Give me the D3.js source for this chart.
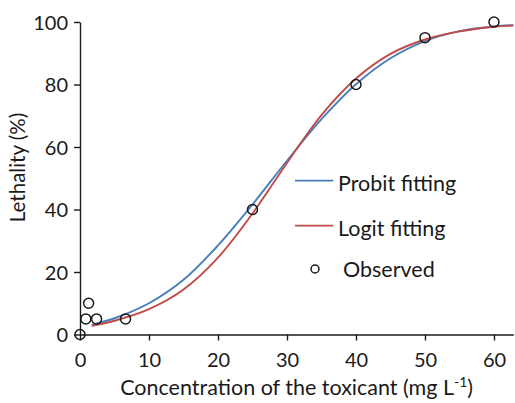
<!DOCTYPE html>
<html>
<head>
<meta charset="utf-8">
<script src="https://cdn.jsdelivr.net/npm/d3@7"></script>
<style>
  html, body { margin: 0; padding: 0; background: #fff; }
  svg text { font-family: Lato, "Open Sans", sans-serif; fill: #1a1a1a; }
</style>
</head>
<body>
<svg id="chart" width="515" height="403"></svg>
<script>
// Mortality observed at each toxicant concentration (mg/L) and percentage
const obsConc = [0, 0.85, 1.25, 2.4, 6.6, 25, 40, 50, 60];
const obsLethality = [0, 5, 10, 5, 5, 40, 80, 95, 100];

// Fitted dose-response curves, sampled along the concentration axis
const fitConc = [1.7, 5, 10, 15, 20, 25, 30, 35, 40, 45, 50, 55, 60, 62.8];
const probitFit = [3.1, 5.2, 10.0, 17.5, 28.5, 41.6, 55.6, 68.9, 80.1, 88.4, 93.9, 97.1, 98.6, 99.0];
const logitFit = [2.8, 4.4, 8.1, 14.4, 24.6, 38.7, 54.9, 70.2, 81.9, 89.8, 94.4, 97.0, 98.5, 98.9];

const xTicks = [0, 10, 20, 30, 40, 50, 60];
const yTicks = [0, 20, 40, 60, 80, 100];

const seriesNames = ["Probit fitting", "Logit fitting", "Observed"];
const seriesColors = ["#4a7ebb", "#be4b48", "#1a1a1a"];

const svg = d3.select("#chart");

const x = d3.scaleLinear().domain([0, 62.8]).range([80, 513.3]);
const y = d3.scaleLinear().domain([0, 100]).range([334.5, 22]);

// Axes
const xAxis = svg.append("g")
  .attr("transform", `translate(0,${y(0)})`)
  .call(d3.axisBottom(x).tickValues(xTicks).tickSize(6).tickSizeOuter(0).tickPadding(12));
const yAxis = svg.append("g")
  .attr("transform", `translate(${x(0)},0)`)
  .call(d3.axisLeft(y).tickValues(yTicks).tickSize(6).tickSizeOuter(0).tickPadding(6));

[xAxis, yAxis].forEach(g => {
  g.select(".domain").attr("stroke", "#1a1a1a").attr("stroke-width", 1.4);
  g.selectAll(".tick line").attr("stroke", "#1a1a1a").attr("stroke-width", 1.4);
  g.selectAll(".tick text").attr("font-size", 20).attr("fill", "#1a1a1a")
    .style("font-family", "Lato, 'Open Sans', sans-serif");
});
yAxis.selectAll(".tick text").attr("dy", "0.36em");

// Fitted curves
const line = d3.line().x(d => x(d[0])).y(d => y(d[1])).curve(d3.curveCatmullRom.alpha(0.5));
const probitPts = fitConc.map((c, i) => [c, probitFit[i]]);
const logitPts = fitConc.map((c, i) => [c, logitFit[i]]);

svg.append("path").datum(probitPts)
  .attr("d", line).attr("fill", "none")
  .attr("stroke", seriesColors[0]).attr("stroke-width", 1.9);
svg.append("path").datum(logitPts)
  .attr("d", line).attr("fill", "none")
  .attr("stroke", seriesColors[1]).attr("stroke-width", 1.9);

// Observed points
svg.append("g").selectAll("circle")
  .data(obsConc.map((c, i) => [c, obsLethality[i]]))
  .join("circle")
  .attr("cx", d => x(d[0])).attr("cy", d => y(d[1]))
  .attr("r", 5).attr("fill", "none")
  .attr("stroke", seriesColors[2]).attr("stroke-width", 1.5);

// Axis titles
svg.append("text")
  .attr("x", (x.range()[0] + x.range()[1]) / 2).attr("y", 395)
  .attr("text-anchor", "middle").attr("font-size", 21.5)
  .call(t => {
    t.append("tspan").text("Concentration of the toxicant (mg L");
    t.append("tspan").attr("font-size", 14).attr("dy", -8).text("-1");
    t.append("tspan").attr("dy", 8).text(")");
  });

svg.append("text")
  .attr("transform", "translate(25,167.5) rotate(-90)")
  .attr("text-anchor", "middle").attr("font-size", 20.5)
  .text("Lethality (%)");

// Legend
const legend = svg.append("g");
[[seriesNames[0], seriesColors[0], 180.7], [seriesNames[1], seriesColors[1], 225.7]].forEach(([name, color, ly]) => {
  legend.append("line")
    .attr("x1", 295).attr("x2", 333.3).attr("y1", ly).attr("y2", ly)
    .attr("stroke", color).attr("stroke-width", 1.8);
  legend.append("text")
    .attr("x", 338).attr("y", ly + 10.5).attr("font-size", 21.5).text(name);
});
legend.append("circle")
  .attr("cx", 315).attr("cy", 269).attr("r", 4)
  .attr("fill", "none").attr("stroke", seriesColors[2]).attr("stroke-width", 1.5);
legend.append("text")
  .attr("x", 343).attr("y", 277).attr("font-size", 21.5).text(seriesNames[2]);
</script>
</body>
</html>
